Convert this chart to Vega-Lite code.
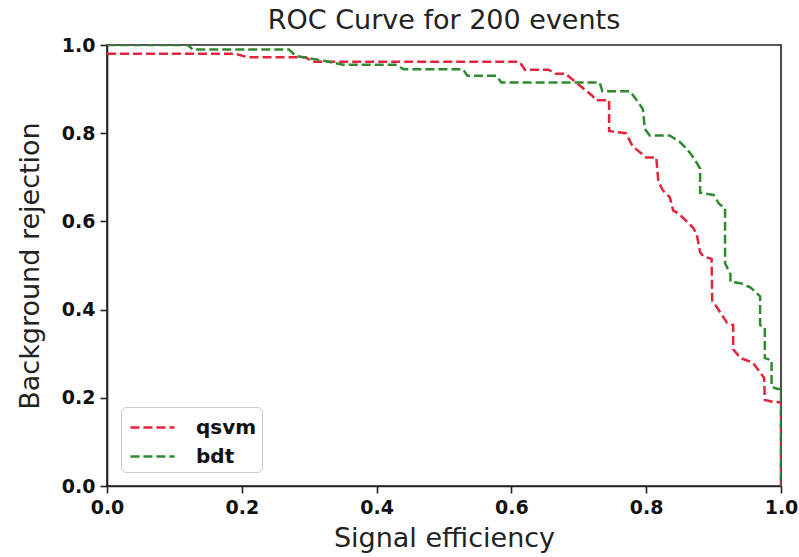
{
  "$schema": "https://vega.github.io/schema/vega-lite/v6.json",
  "autosize": {"type": "none"},
  "padding": {"left": 107, "top": 45, "right": 18, "bottom": 71},
  "width": 674,
  "height": 441,
  "background": "white",
  "title": {"text": "ROC Curve for 200 events", "font": "DejaVu Sans", "fontSize": 27, "fontWeight": "normal", "color": "#222", "offset": 1},
  "config": {
    "view": {"stroke": "#222", "strokeWidth": 1.6},
    "axis": {"grid": false, "domainColor": "#222", "domainWidth": 1.6, "tickColor": "#222", "tickWidth": 1.6, "tickSize": 7,
      "labelFont": "DejaVu Sans", "labelFontWeight": "bold", "labelFontSize": 19, "labelColor": "#111",
      "titleFont": "DejaVu Sans", "titleFontWeight": "normal", "titleFontSize": 27, "titleColor": "#222"}
  },
  "data": {"values": [
    {"model": "qsvm", "i": 0, "x": 0.0, "y": 0.98},
    {"model": "qsvm", "i": 1, "x": 0.19, "y": 0.98},
    {"model": "qsvm", "i": 2, "x": 0.21, "y": 0.972},
    {"model": "qsvm", "i": 3, "x": 0.295, "y": 0.972},
    {"model": "qsvm", "i": 4, "x": 0.305, "y": 0.962},
    {"model": "qsvm", "i": 5, "x": 0.612, "y": 0.962},
    {"model": "qsvm", "i": 6, "x": 0.62, "y": 0.944},
    {"model": "qsvm", "i": 7, "x": 0.655, "y": 0.944},
    {"model": "qsvm", "i": 8, "x": 0.665, "y": 0.935},
    {"model": "qsvm", "i": 9, "x": 0.68, "y": 0.935},
    {"model": "qsvm", "i": 10, "x": 0.70, "y": 0.91},
    {"model": "qsvm", "i": 11, "x": 0.72, "y": 0.885},
    {"model": "qsvm", "i": 12, "x": 0.725, "y": 0.875},
    {"model": "qsvm", "i": 13, "x": 0.745, "y": 0.875},
    {"model": "qsvm", "i": 14, "x": 0.745, "y": 0.805},
    {"model": "qsvm", "i": 15, "x": 0.77, "y": 0.80},
    {"model": "qsvm", "i": 16, "x": 0.78, "y": 0.77},
    {"model": "qsvm", "i": 17, "x": 0.80, "y": 0.745},
    {"model": "qsvm", "i": 18, "x": 0.815, "y": 0.745},
    {"model": "qsvm", "i": 19, "x": 0.818, "y": 0.69},
    {"model": "qsvm", "i": 20, "x": 0.825, "y": 0.67},
    {"model": "qsvm", "i": 21, "x": 0.835, "y": 0.655},
    {"model": "qsvm", "i": 22, "x": 0.84, "y": 0.625},
    {"model": "qsvm", "i": 23, "x": 0.85, "y": 0.615},
    {"model": "qsvm", "i": 24, "x": 0.86, "y": 0.60},
    {"model": "qsvm", "i": 25, "x": 0.87, "y": 0.585},
    {"model": "qsvm", "i": 26, "x": 0.875, "y": 0.57},
    {"model": "qsvm", "i": 27, "x": 0.88, "y": 0.53},
    {"model": "qsvm", "i": 28, "x": 0.885, "y": 0.52},
    {"model": "qsvm", "i": 29, "x": 0.897, "y": 0.515},
    {"model": "qsvm", "i": 30, "x": 0.898, "y": 0.42},
    {"model": "qsvm", "i": 31, "x": 0.905, "y": 0.405},
    {"model": "qsvm", "i": 32, "x": 0.92, "y": 0.37},
    {"model": "qsvm", "i": 33, "x": 0.929, "y": 0.365},
    {"model": "qsvm", "i": 34, "x": 0.929, "y": 0.31},
    {"model": "qsvm", "i": 35, "x": 0.94, "y": 0.29},
    {"model": "qsvm", "i": 36, "x": 0.958, "y": 0.28},
    {"model": "qsvm", "i": 37, "x": 0.968, "y": 0.26},
    {"model": "qsvm", "i": 38, "x": 0.975, "y": 0.245},
    {"model": "qsvm", "i": 39, "x": 0.976, "y": 0.195},
    {"model": "qsvm", "i": 40, "x": 0.99, "y": 0.19},
    {"model": "qsvm", "i": 41, "x": 1.0, "y": 0.19},
    {"model": "qsvm", "i": 42, "x": 1.0, "y": 0.0},
    {"model": "bdt", "i": 0, "x": 0.0, "y": 1.0},
    {"model": "bdt", "i": 1, "x": 0.12, "y": 1.0},
    {"model": "bdt", "i": 2, "x": 0.127, "y": 0.99},
    {"model": "bdt", "i": 3, "x": 0.27, "y": 0.99},
    {"model": "bdt", "i": 4, "x": 0.28, "y": 0.975},
    {"model": "bdt", "i": 5, "x": 0.32, "y": 0.965},
    {"model": "bdt", "i": 6, "x": 0.35, "y": 0.955},
    {"model": "bdt", "i": 7, "x": 0.43, "y": 0.955},
    {"model": "bdt", "i": 8, "x": 0.44, "y": 0.945},
    {"model": "bdt", "i": 9, "x": 0.528, "y": 0.945},
    {"model": "bdt", "i": 10, "x": 0.535, "y": 0.93},
    {"model": "bdt", "i": 11, "x": 0.578, "y": 0.93},
    {"model": "bdt", "i": 12, "x": 0.585, "y": 0.915},
    {"model": "bdt", "i": 13, "x": 0.731, "y": 0.915},
    {"model": "bdt", "i": 14, "x": 0.735, "y": 0.895},
    {"model": "bdt", "i": 15, "x": 0.776, "y": 0.895},
    {"model": "bdt", "i": 16, "x": 0.786, "y": 0.875},
    {"model": "bdt", "i": 17, "x": 0.795, "y": 0.855},
    {"model": "bdt", "i": 18, "x": 0.798, "y": 0.81},
    {"model": "bdt", "i": 19, "x": 0.805, "y": 0.795},
    {"model": "bdt", "i": 20, "x": 0.835, "y": 0.795},
    {"model": "bdt", "i": 21, "x": 0.85, "y": 0.78},
    {"model": "bdt", "i": 22, "x": 0.86, "y": 0.765},
    {"model": "bdt", "i": 23, "x": 0.87, "y": 0.745},
    {"model": "bdt", "i": 24, "x": 0.88, "y": 0.72},
    {"model": "bdt", "i": 25, "x": 0.88, "y": 0.665},
    {"model": "bdt", "i": 26, "x": 0.90, "y": 0.66},
    {"model": "bdt", "i": 27, "x": 0.908, "y": 0.64},
    {"model": "bdt", "i": 28, "x": 0.917, "y": 0.63},
    {"model": "bdt", "i": 29, "x": 0.917, "y": 0.505},
    {"model": "bdt", "i": 30, "x": 0.925, "y": 0.48},
    {"model": "bdt", "i": 31, "x": 0.925, "y": 0.463},
    {"model": "bdt", "i": 32, "x": 0.94, "y": 0.46},
    {"model": "bdt", "i": 33, "x": 0.955, "y": 0.45},
    {"model": "bdt", "i": 34, "x": 0.969, "y": 0.43},
    {"model": "bdt", "i": 35, "x": 0.969, "y": 0.365},
    {"model": "bdt", "i": 36, "x": 0.976, "y": 0.36},
    {"model": "bdt", "i": 37, "x": 0.976, "y": 0.29},
    {"model": "bdt", "i": 38, "x": 0.986, "y": 0.285},
    {"model": "bdt", "i": 39, "x": 0.986, "y": 0.225},
    {"model": "bdt", "i": 40, "x": 0.995, "y": 0.22},
    {"model": "bdt", "i": 41, "x": 1.0, "y": 0.22},
    {"model": "bdt", "i": 42, "x": 1.0, "y": 0.0}
  ]},
  "mark": {"type": "line", "strokeWidth": 2.5, "strokeDash": [9, 4], "clip": true},
  "encoding": {
    "x": {"field": "x", "type": "quantitative", "scale": {"domain": [0, 1], "nice": false, "zero": false},
      "axis": {"title": "Signal efficiency", "values": [0, 0.2, 0.4, 0.6, 0.8, 1.0], "format": ".1f", "labelPadding": 5, "titlePadding": 8, "labelFlush": false}},
    "y": {"field": "y", "type": "quantitative", "scale": {"domain": [0, 1], "nice": false, "zero": false},
      "axis": {"title": "Background rejection", "values": [0, 0.2, 0.4, 0.6, 0.8, 1.0], "format": ".1f", "labelPadding": 5, "titlePadding": 17, "labelFlush": false}},
    "color": {"field": "model", "type": "nominal", "scale": {"domain": ["qsvm", "bdt"], "range": ["#e3243c", "#2f8a2f"]},
      "legend": {"title": null, "orient": "bottom-left", "offset": 14, "symbolType": "M-0.79,0H2.36", "symbolSize": 784, "symbolStrokeWidth": 2.5, "symbolDash": [9, 4], "symbolFillColor": "transparent",
        "labelFont": "DejaVu Sans", "labelFontWeight": "bold", "labelFontSize": 20, "labelColor": "#111", "labelOffset": 39,
        "strokeColor": "#cccccc", "fillColor": "white", "cornerRadius": 5, "padding": 5, "rowPadding": 3}},
    "order": {"field": "i", "type": "quantitative"}
  }
}
